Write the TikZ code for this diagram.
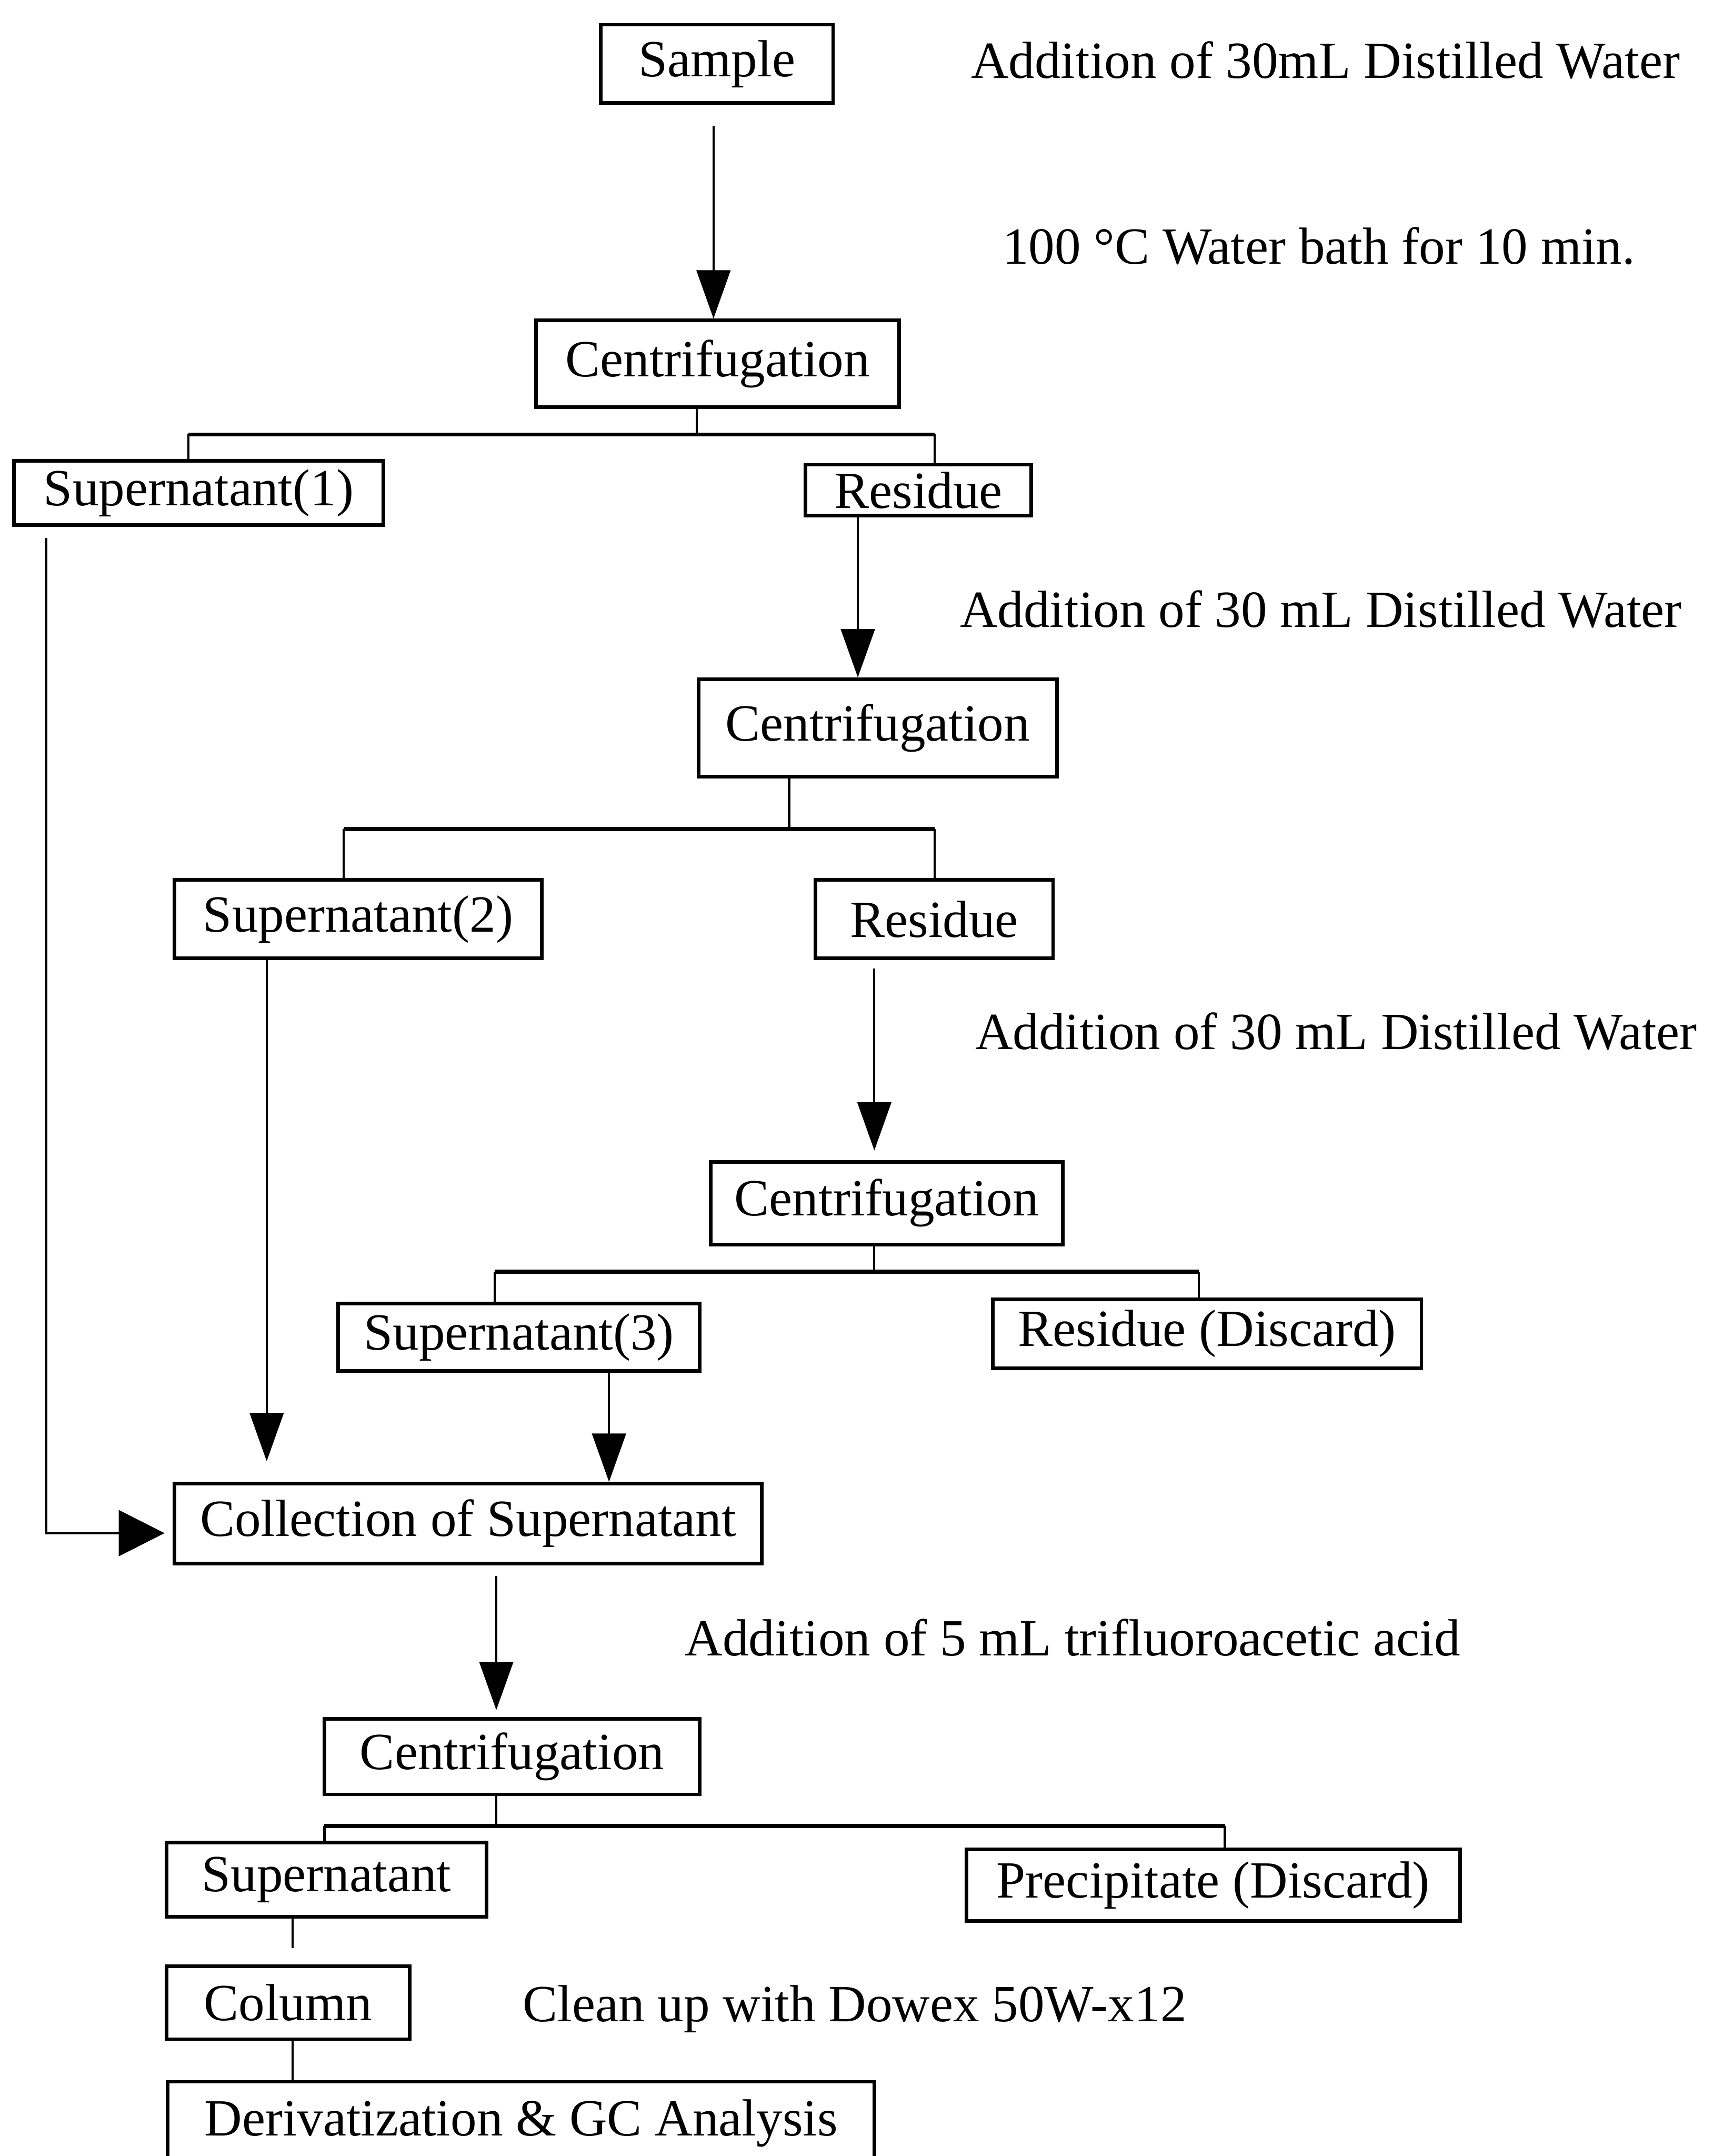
\documentclass[tikz,border=0pt]{standalone}
\usepackage{fontspec}
\setmainfont{Liberation Serif}
\usetikzlibrary{arrows.meta,calc}
\newcommand{\dfont}{\fontsize{21.6pt}{26pt}\selectfont}
\begin{document}
\begin{tikzpicture}[x=0.02cm,y=-0.02cm,
  box/.style={draw,line width=1.5pt,inner sep=0pt,font=\dfont},
  conn/.style={line width=0.9pt},
  branch/.style={line width=1.7pt},
  arr/.style={line width=0.9pt,-{Triangle[length=20pt,width=14pt]}},
  lbl/.style={anchor=base west,inner sep=0pt,font=\dfont}]
\clip (0,0) rectangle (1246,1568);
\fill[white] (0,0) rectangle (1246,1568);

% boxes
\node[box,minimum width=3.38cm,minimum height=1.14cm] (sample) at (521.5,46.5) {Sample};
\node[box,minimum width=5.28cm,minimum height=1.26cm] (c1) at (522,264.5) {Centrifugation};
\node[box,minimum width=5.38cm,minimum height=0.94cm] (s1) at (144.5,358.5) {Supernatant(1)};
\node[box,minimum width=3.28cm,minimum height=0.74cm] (r1) at (668,356.5) {Residue};
\node[box,minimum width=5.22cm,minimum height=1.42cm] (c2) at (638.5,529.5) {Centrifugation};
\node[box,minimum width=5.34cm,minimum height=1.14cm] (s2) at (260.5,668.5) {Supernatant(2)};
\node[box,minimum width=3.46cm,minimum height=1.14cm] (r2) at (679.5,668.5) {Residue};
\node[box,minimum width=5.12cm,minimum height=1.20cm] (c3) at (645,875) {Centrifugation};
\node[box,minimum width=5.26cm,minimum height=0.98cm] (s3) at (377.5,972.5) {Supernatant(3)};
\node[box,minimum width=6.24cm,minimum height=1.00cm] (r3) at (878,970) {Residue (Discard)};
\node[box,minimum width=8.54cm,minimum height=1.16cm] (coll) at (340.5,1108) {Collection of Supernatant};
\node[box,minimum width=5.46cm,minimum height=1.10cm] (c4) at (372.5,1277.5) {Centrifugation};
\node[box,minimum width=4.66cm,minimum height=1.08cm] (s4) at (237.5,1367) {Supernatant};
\node[box,minimum width=7.18cm,minimum height=1.04cm] (prec) at (882.5,1371) {Precipitate (Discard)};
\node[box,minimum width=3.54cm,minimum height=1.06cm] (col) at (209.5,1456.5) {Column};
\node[box,minimum width=10.28cm,minimum height=1.20cm] (der) at (379,1544) {Derivatization \& GC Analysis};

% side labels
\node[lbl] (l1) at (706,57) {Addition of 30mL Distilled Water};
\node[lbl] (l2) at (729,192) {100 °C Water bath for 10 min.};
\node[lbl] (l3) at (698,456) {Addition of 30 mL Distilled Water};
\node[lbl] (l4) at (709,763) {Addition of 30 mL Distilled Water};
\node[lbl] (l5) at (498,1204) {Addition of 5 mL trifluoroacetic acid};
\node[lbl] (l6) at (380,1470) {Clean up with Dowex 50W-x12};

% sample -> centrifugation 1
\coordinate (a1) at ($(sample.south)+(-2.5,0)$);
\draw[arr,shorten <=0.3cm] (a1) -- (a1 |- c1.north);

% branch 1
\coordinate (j1) at (507,316);
\coordinate (j1l) at (137,316);
\coordinate (j1r) at (680,316);
\draw[conn] (c1.south -| j1) -- (j1);
\draw[branch] (j1l) -- (j1r);
\draw[conn] (j1l) -- (j1l |- s1.north);
\draw[conn] (j1r) -- (j1r |- r1.north);

% supernatant 1 -> collection
\coordinate (s1o) at ($(s1.south west)+(25,8)$);
\coordinate (collin) at ($(coll.west)+(-6,7)$);
\draw[line width=0.9pt,-{Triangle[length=19pt,width=19pt]}] (s1o) |- (collin);

% residue 1 -> centrifugation 2
\coordinate (a2) at ($(r1.south)+(-44,0)$);
\draw[arr] (a2) -- (a2 |- c2.north);

% branch 2
\coordinate (j2) at (574,603);
\coordinate (j2l) at (250,603);
\coordinate (j2r) at (680,603);
\draw[conn] (c2.south -| j2) -- (j2);
\draw[branch] (j2l) -- (j2r);
\draw[conn] (j2l) -- (j2l |- s2.north);
\draw[conn] (j2r) -- (j2r |- r2.north);

% supernatant 2 -> collection
\coordinate (a3) at ($(s2.south)+(-66.5,0)$);
\draw[arr,shorten >=0.3cm] (a3) -- (a3 |- coll.north);

% residue 2 -> centrifugation 3
\coordinate (a4) at ($(r2.south)+(-43.5,0)$);
\draw[arr,shorten <=0.12cm,shorten >=0.14cm] (a4) -- (a4 |- c3.north);

% branch 3
\coordinate (j3) at (636,925);
\coordinate (j3l) at (360,925);
\coordinate (j3r) at (872,925);
\draw[conn] (c3.south -| j3) -- (j3);
\draw[branch] (j3l) -- (j3r);
\draw[conn] (j3l) -- (j3l |- s3.north);
\draw[conn] (j3r) -- (j3r |- r3.north);

% supernatant 3 -> collection
\coordinate (a5) at ($(s3.south)+(65.5,0)$);
\draw[arr] (a5) -- (a5 |- coll.north);

% collection -> centrifugation 4
\coordinate (a6) at ($(coll.south)+(20.5,0)$);
\draw[arr,shorten <=0.16cm,shorten >=0.1cm] (a6) -- (a6 |- c4.north);

% branch 4
\coordinate (j4) at (361,1328);
\coordinate (j4l) at (236,1328);
\coordinate (j4r) at (891,1328);
\draw[conn] (c4.south -| j4) -- (j4);
\draw[branch] (j4l) -- (j4r);
\draw[conn] (j4l) -- (j4l |- s4.north);
\draw[conn] (j4r) -- (j4r |- prec.north);

% supernatant -> column -> derivatization
\coordinate (a7) at ($(s4.south)+(-24.5,0)$);
\draw[conn,shorten >=0.24cm] (a7) -- (a7 |- col.north);
\coordinate (a8) at ($(col.south)+(3.5,0)$);
\draw[conn] (a8) -- (a8 |- der.north);
\end{tikzpicture}
\end{document}
